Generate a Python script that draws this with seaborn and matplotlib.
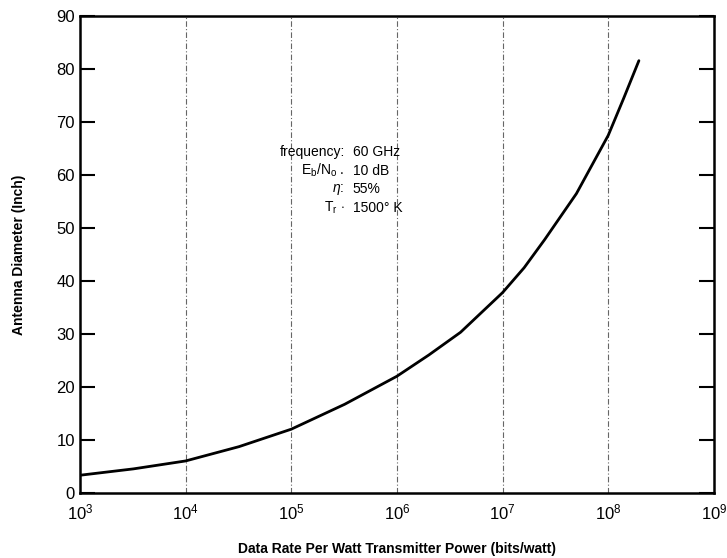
import numpy as np
import pandas as pd
import seaborn as sns
import matplotlib.pyplot as plt

# values
data_rate = [1e3, 3.2e3, 1e4, 3.2e4, 1e5, 3.2e5, 1e6, 2e6, 4e6, 1e7,
             1.6e7, 2.5e7, 5e7, 1e8, 1.4e8, 1.95e8]
diameter = [3.3, 4.5, 6.0, 8.7, 12.0, 16.7, 22.0, 26.0, 30.3, 37.8,
            42.5, 47.8, 56.5, 67.5, 74.5, 81.6]
decades = [1e3, 1e4, 1e5, 1e6, 1e7, 1e8, 1e9]
decade_labels = [r'$\mathregular{10^{%d}}$' % k for k in range(3, 10)]
y_ticks = list(range(0, 91, 10))

sns.set_style('white')
plt.rcParams['font.family'] = ['Liberation Sans', 'DejaVu Sans']
plt.rcParams['mathtext.fontset'] = 'custom'
plt.rcParams['mathtext.rm'] = 'Liberation Sans'
plt.rcParams['mathtext.it'] = 'Liberation Sans:italic'
plt.rcParams['text.color'] = 'black'
plt.rcParams['axes.labelcolor'] = 'black'
plt.rcParams['xtick.color'] = 'black'
plt.rcParams['ytick.color'] = 'black'

df = pd.DataFrame({'rate': data_rate, 'diam': diameter})

fig, ax = plt.subplots(figsize=(7.27, 5.58), dpi=100)
fig.subplots_adjust(left=0.11, right=0.982, top=0.971, bottom=0.117)

sns.lineplot(data=df, x='rate', y='diam', color='black', linewidth=2.0, ax=ax)
ax.set_xscale('log')
ax.set_xlim(1e3, 1e9)
ax.set_ylim(0, 90)

for d in decades[1:-1]:
    ax.axvline(d, color='0.4', linewidth=0.8, linestyle=(0, (5, 2, 1, 2)), zorder=0)

ax.set_xticks(decades)
ax.set_xticklabels(decade_labels)
ax.xaxis.set_minor_locator(plt.NullLocator())
ax.set_yticks(y_ticks)
ax.tick_params(axis='x', length=0, labelsize=12, pad=7)
ax.tick_params(axis='y', direction='in', length=11, width=1.5, labelsize=12,
               left=True, right=True)

for s in ax.spines.values():
    s.set_linewidth(1.8)
    s.set_color('black')

ax.set_xlabel('Data Rate Per Watt Transmitter Power (bits/watt)',
              fontsize=10, fontweight='bold', labelpad=14)
ax.set_ylabel('Antenna Diameter (Inch)', fontsize=10, fontweight='bold', labelpad=22)

labels = ['frequency:', r'$\mathregular{E_b/N_o}$ .', r'$\eta$:', r'$\mathregular{T_r}$ $\cdot$']
values = ['60 GHz', '10 dB', '55%', '1500° K']
for i, (lab, val) in enumerate(zip(labels, values)):
    y = 64.3 - i * 3.5
    ax.text(3.2e5, y, lab, ha='right', va='center', fontsize=10)
    ax.text(3.8e5, y, val, ha='left', va='center', fontsize=10)

plt.savefig('out.png', dpi=100)
